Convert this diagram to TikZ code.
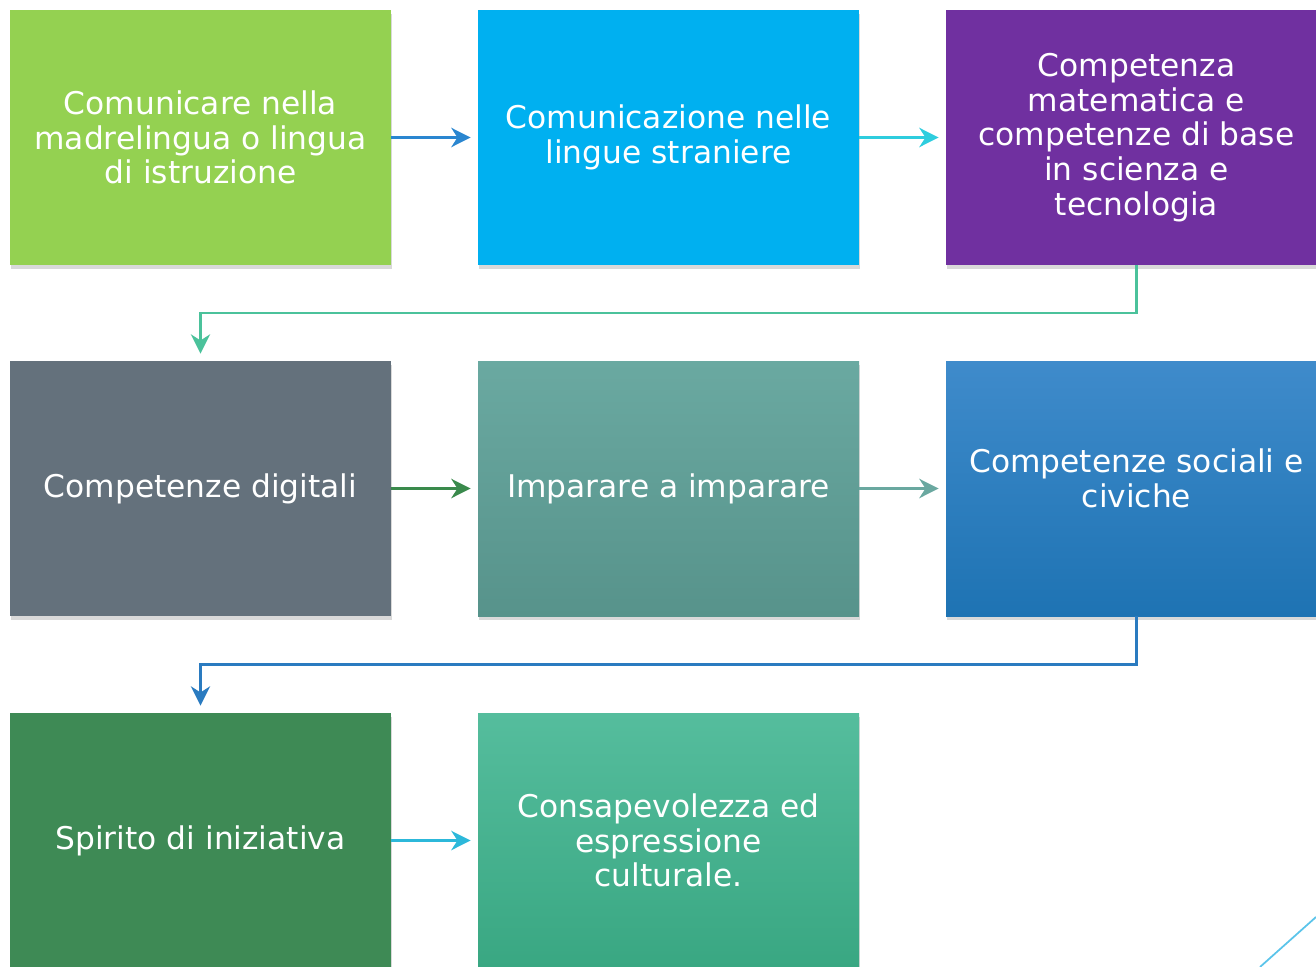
\documentclass[tikz,border=0pt]{standalone}
\usepackage{fontspec}
\setmainfont{DejaVu Sans}
\usetikzlibrary{arrows.meta, shadows}
\tikzset{>={Stealth[length=11pt,width=11pt,inset=3.5pt]}}

\definecolor{cgreen}{HTML}{94D151}
\definecolor{ccyan}{HTML}{00B0F0}
\definecolor{cpurple}{HTML}{7030A0}
\definecolor{cslate}{HTML}{64717C}
\definecolor{ctealtop}{HTML}{6AA9A1}
\definecolor{ctealbot}{HTML}{57938B}
\definecolor{cbluetop}{HTML}{3F8BCB}
\definecolor{cbluebot}{HTML}{1E73B3}
\definecolor{cdkgreen}{HTML}{3E8A55}
\definecolor{cmintop}{HTML}{55BD9D}
\definecolor{cminbot}{HTML}{39A782}
\definecolor{aBlue}{HTML}{2A86D0}
\definecolor{aCyan}{HTML}{2ECDDE}
\definecolor{aMint}{HTML}{4BC29B}
\definecolor{aGreen}{HTML}{3A8A4C}
\definecolor{aTeal}{HTML}{6AA8A0}
\definecolor{aSteel}{HTML}{2A7BC0}
\definecolor{aSky}{HTML}{2CB8DA}
\definecolor{deco}{HTML}{5BC4EA}

\tikzset{
    card/.style={minimum width=7.62cm, minimum height=5.1cm, inner sep=0pt,
        align=center, text=white, font=\fontsize{17.8}{19.8}\selectfont,
        drop shadow={opacity=0.3, shadow xshift=0.6pt, shadow yshift=-2pt}},
    link/.style={->, line width=1.6pt, shorten >=4pt}
}

\begin{document}
\begin{tikzpicture}
    \useasboundingbox (0,0) rectangle (26.32,-19.34);
    % first row
    \node[card, fill=cgreen] (mother) at (4.01,-2.75) {Comunicare nella\\madrelingua o lingua\\di istruzione};
    \node[card, fill=ccyan] (foreign) at (13.37,-2.75) {Comunicazione nelle\\lingue straniere};
    \node[card, fill=cpurple] (maths) at (22.73,-2.75) {Competenza\\matematica e\\competenze di base\\in scienza e\\tecnologia};
    % second row
    \node[card, fill=cslate] (digital) at (4.01,-9.77) {Competenze digitali};
    \node[card, top color=ctealtop, bottom color=ctealbot] (learn) at (13.37,-9.77) {Imparare a imparare};
    \node[card, top color=cbluetop, bottom color=cbluebot, text depth=0.4cm] (social) at (22.73,-9.77) {Competenze sociali e\\civiche};
    % third row
    \node[card, fill=cdkgreen] (spirit) at (4.01,-16.81) {Spirito di iniziativa};
    \node[card, top color=cmintop, bottom color=cminbot] (culture) at (13.37,-16.81) {Consapevolezza ed\\espressione\\culturale.};

    \draw[link, aBlue] (mother) -- (foreign);
    \draw[link, aCyan] (foreign) -- (maths);
    \draw[link, aMint, line width=1.3pt] (maths.south) -- ++(0,-0.96) -| (digital.north);
    \draw[link, aGreen] (digital) -- (learn);
    \draw[link, aTeal] (learn) -- (social);
    \draw[link, aSteel, line width=1.3pt] (social.south) -- ++(0,-0.96) -| (spirit.north);
    \draw[link, aSky] (spirit) -- (culture);

    \draw[deco, line width=1pt] (26.32,-18.34) -- (25.2,-19.34);
\end{tikzpicture}
\end{document}
